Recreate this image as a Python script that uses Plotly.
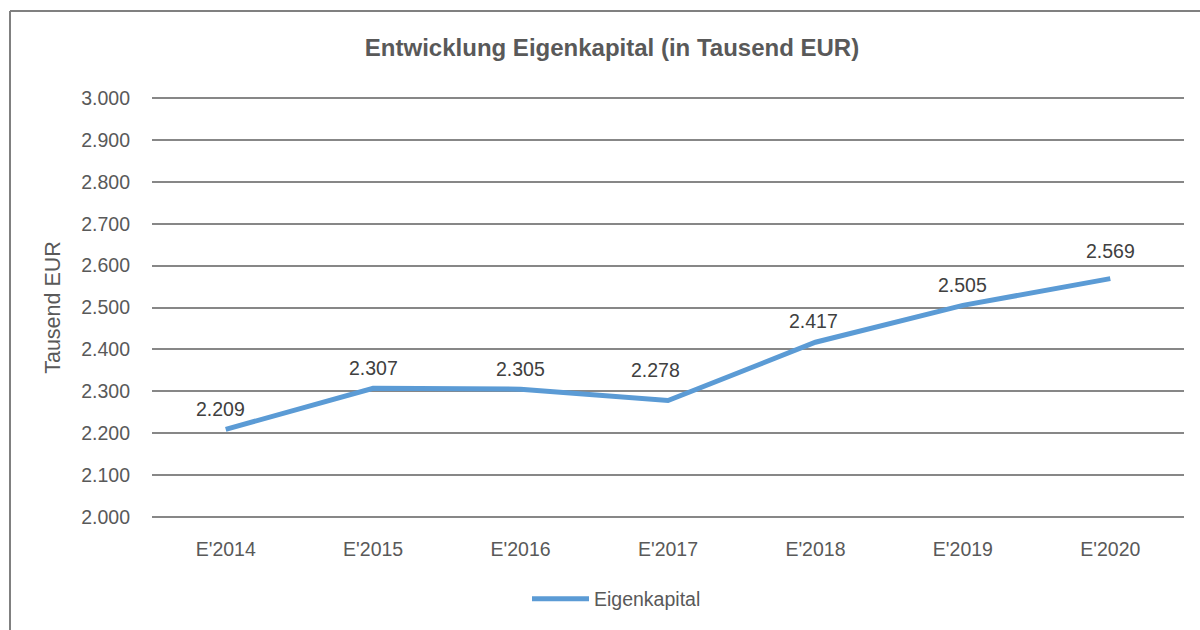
import plotly.graph_objects as go

categories = ["E'2014", "E'2015", "E'2016", "E'2017", "E'2018", "E'2019", "E'2020"]
eigenkapital = [2209, 2307, 2305, 2278, 2417, 2505, 2569]
series_name = "Eigenkapital"
title_text = "Entwicklung Eigenkapital (in Tausend EUR)"
y_title = "Tausend EUR"
y_ticks = [2000, 2100, 2200, 2300, 2400, 2500, 2600, 2700, 2800, 2900, 3000]

FONT = "Liberation Sans, Arial, sans-serif"
GRAY = "#595959"
LABEL = "#404040"
FS = 19.5

# per-label nudges (pixels) to mirror the manual label placement of the original
label_dx = [-5, 0, 0, -13, -2, 0, 0]
label_dy = [0, 0, 0, 10, 1, 0, 8]

fig = go.Figure()
fig.add_trace(go.Scatter(
    x=categories, y=eigenkapital, name=series_name,
    mode="lines",
    line=dict(color="#5B9BD5", width=5),
    cliponaxis=False,
))

annotations = [
    dict(x=c, y=v, xref="x", yref="y", text=f"{v:,d}".replace(",", "."),
         showarrow=False, yanchor="bottom", yshift=7 + dy, xshift=dx,
         font=dict(family=FONT, size=FS, color=LABEL))
    for c, v, dx, dy in zip(categories, eigenkapital, label_dx, label_dy)
]

PAD = 5  # data units of padding so edge gridlines are drawn
fig.update_layout(
    width=1200, height=630,
    paper_bgcolor="white", plot_bgcolor="white",
    separators=",.",
    margin=dict(l=152, r=16, t=96, b=111, autoexpand=False),
    title=dict(text="<b>" + title_text + "</b>", x=612 / 1200, xref="container",
               y=1 - 48 / 630, yref="container", xanchor="center", yanchor="middle",
               font=dict(family=FONT, size=24, color=GRAY)),
    font=dict(family=FONT, color=GRAY, size=FS),
    xaxis=dict(type="category", range=[-0.5, 6.5], showgrid=False, showline=False,
               zeroline=False, ticks="", tickfont=dict(family=FONT, size=FS, color=GRAY),
               ticklabelstandoff=16),
    yaxis=dict(range=[y_ticks[0] - PAD, y_ticks[-1] + PAD], tickvals=y_ticks, tickformat=",d",
               showgrid=True, gridcolor="#878787", gridwidth=2, zeroline=False, showline=False,
               ticks="", tickfont=dict(family=FONT, size=FS, color=GRAY), ticklabelstandoff=21,
               title=dict(text=y_title, font=dict(family=FONT, size=21.5, color=GRAY), standoff=14)),
    showlegend=True,
    legend=dict(orientation="h", x=527 / 1200, xref="container", xanchor="left",
                y=1 - 599 / 630, yref="container", yanchor="middle",
                font=dict(family=FONT, size=FS, color=GRAY), itemwidth=57),
    annotations=annotations,
    shapes=[
        dict(type="line", xref="paper", yref="paper",
             x0=(10 - 152) / 1032, x1=(1210 - 152) / 1032,
             y0=1 + (96 - 11) / 423, y1=1 + (96 - 11) / 423,
             line=dict(color="#808080", width=2)),
        dict(type="line", xref="paper", yref="paper",
             x0=(10 - 152) / 1032, x1=(10 - 152) / 1032,
             y0=1 + (96 - 11) / 423, y1=-(640 - 519) / 423,
             line=dict(color="#808080", width=2)),
    ],
)

fig.write_html("out.html", config={"displayModeBar": False},
               post_script="document.body.style.margin='0';")
